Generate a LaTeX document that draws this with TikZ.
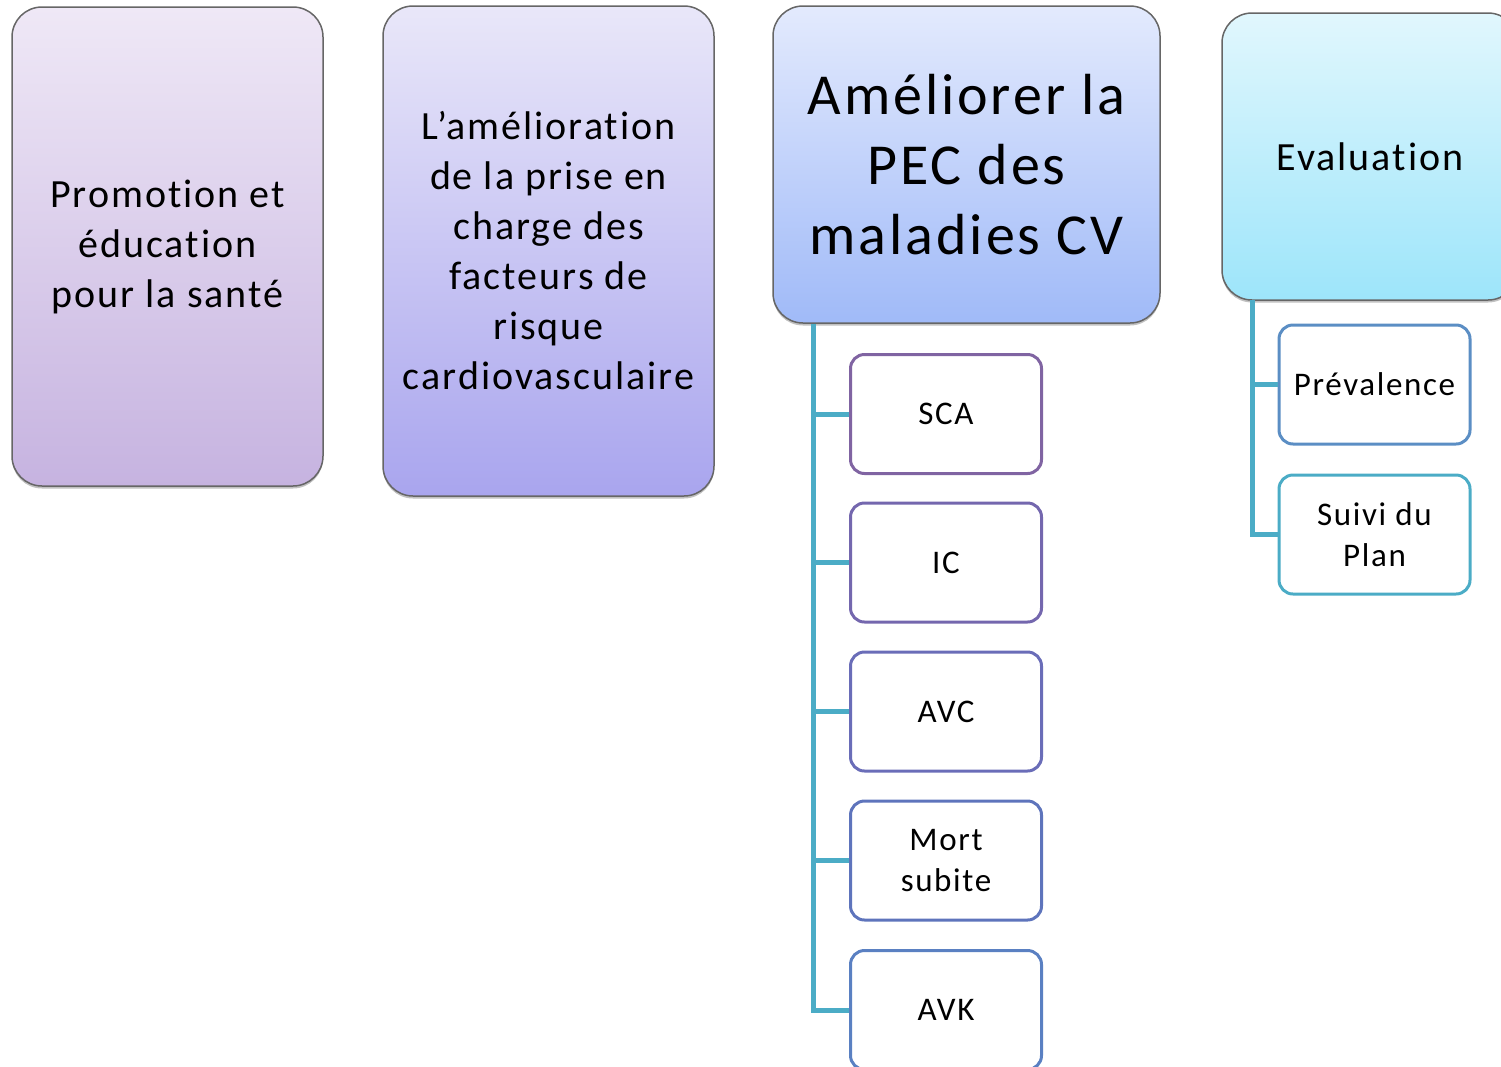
\documentclass[tikz,border=0pt]{standalone}
\usepackage{fontspec}
\setmainfont{Carlito}[LetterSpace=5, Ligatures=NoCommon]
\usetikzlibrary{shadows}
\begin{document}
\begin{tikzpicture}[x=1pt,y=-1pt,
  mainbox/.style={rectangle, rounded corners=30pt, draw=black!60, line width=1.5pt,
    align=center, inner sep=0pt, text=black,
    drop shadow={shadow xshift=0pt, shadow yshift=-2.5pt, opacity=0.35, fill=black!70}},
  subbox/.style={rectangle, rounded corners=14pt, line width=3pt, fill=white,
    align=center, inner sep=0pt, minimum width=191pt, minimum height=119pt,
    font=\fontsize{33}{41}\selectfont},
  branch/.style={draw=linkc, line width=5pt}]
\definecolor{linkc}{HTML}{4BACC6}
\useasboundingbox (0,0) rectangle (1501,1066);
\clip (0,0) rectangle (1501,1066);

% top-level boxes
\node[mainbox, top color={rgb,255:red,239;green,232;blue,246}, bottom color={rgb,255:red,198;green,179;blue,224},
  minimum width=311pt, minimum height=479pt, font=\fontsize{40}{50}\selectfont]
  (promo) at (167.5,246.5) {Promotion et\\éducation\\pour la santé};
\node[mainbox, top color={rgb,255:red,233;green,231;blue,249}, bottom color={rgb,255:red,169;green,165;blue,238},
  minimum width=331pt, minimum height=490pt, font=\fontsize{40}{50}\selectfont]
  (facteurs) at (548.5,251) {L’amélioration\\de la prise en\\charge des\\facteurs de\\risque\\cardiovasculaire};
\node[mainbox, top color={rgb,255:red,227;green,234;blue,253}, bottom color={rgb,255:red,160;green,186;blue,248},
  minimum width=387pt, minimum height=317pt, font=\fontsize{58}{70}\selectfont]
  (pec) at (966.5,164.5) {Améliorer la\\PEC des\\maladies CV};
\node[mainbox, top color={rgb,255:red,225;green,247;blue,253}, bottom color={rgb,255:red,157;green,229;blue,250},
  minimum width=296pt, minimum height=287pt, font=\fontsize{40}{50}\selectfont]
  (eval) at (1370,156.5) {Evaluation};

% children of the third column
\node[subbox, draw={rgb,255:red,128;green,100;blue,162}] (sca) at (946,414) {SCA};
\node[subbox, draw={rgb,255:red,116;green,103;blue,174}] (ic) at (946,562.5) {IC};
\node[subbox, draw={rgb,255:red,106;green,109;blue,184}] (avc) at (946,711.5) {AVC};
\node[subbox, draw={rgb,255:red,94;green,116;blue,188}] (mort) at (946,860.5) {Mort\\subite};
\node[subbox, draw={rgb,255:red,90;green,128;blue,194}] (avk) at (946,1010) {AVK};

% children of the fourth column
\node[subbox, draw={rgb,255:red,91;green,142;blue,196}] (prev) at (1374.5,384.5) {Prévalence};
\node[subbox, draw=linkc] (suivi) at (1374.5,534.5) {Suivi du\\Plan};

% tree connectors
\coordinate (pecstem) at (813,324);
\coordinate (evalstem) at (1252,300);
\draw[branch] (pecstem) |- (sca.west);
\draw[branch] (pecstem) |- (ic.west);
\draw[branch] (pecstem) |- (avc.west);
\draw[branch] (pecstem) |- (mort.west);
\draw[branch] (pecstem) |- (avk.west);
\draw[branch] (evalstem) |- (prev.west);
\draw[branch] (evalstem) |- (suivi.west);
\end{tikzpicture}
\end{document}
